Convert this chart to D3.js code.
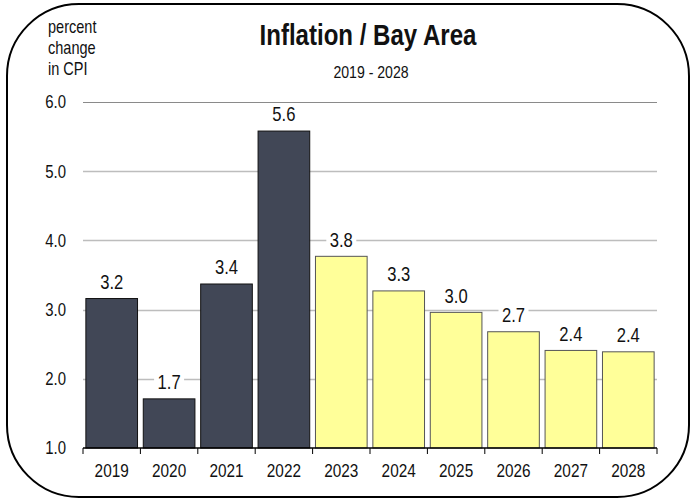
<!DOCTYPE html>
<html>
<head>
<meta charset="utf-8">
<script src="https://cdn.jsdelivr.net/npm/d3@7"></script>
<style>
  body { margin: 0; background: #fff; }
  svg text { font-family: "Liberation Sans", Arial, sans-serif; fill: #111; }
</style>
</head>
<body>
<svg class="chart"></svg>
<script>
var years = ["2019", "2020", "2021", "2022", "2023", "2024", "2025", "2026", "2027", "2028"];
var cpi = [3.16, 1.71, 3.37, 5.58, 3.77, 3.27, 2.96, 2.68, 2.41, 2.39];
var actual = ["2019", "2020", "2021", "2022"];
var yTicks = [1, 2, 3, 4, 5, 6];

var W = 690, H = 499;
var margin = {top: 102, left: 83, right: 33, bottom: 51};
var narrow = 0.83; // fake Arial Narrow

var chart = d3.select(".chart")
	.attr("width", W)
	.attr("height", H);

function place(px, py) {
	return "translate(" + px + "," + py + ") scale(" + narrow + ",1)";
}

// rounded frame
chart.append("rect")
	.attr("x", 7).attr("y", 4)
	.attr("width", 682).attr("height", 493)
	.attr("rx", 72).attr("ry", 72)
	.style("fill", "#fff")
	.style("stroke", "#000")
	.style("stroke-width", 2);

var x = d3.scaleBand()
	.domain(years)
	.range([margin.left, W - margin.right])
	.paddingInner(0.1)
	.paddingOuter(0.05);

var y = d3.scaleLinear()
	.domain([1, 6])
	.range([H - margin.bottom, margin.top]);

// gridlines
chart.append("g").selectAll("line")
	.data(yTicks.filter(function(d) { return d > 1; }))
	.enter().append("line")
	.attr("x1", margin.left)
	.attr("x2", W - margin.right)
	.attr("y1", function(d) { return Math.round(y(d)) + 0.5; })
	.attr("y2", function(d) { return Math.round(y(d)) + 0.5; })
	.style("stroke", function(d) { return d == 6 ? "#8a8a8a" : "#bdbdbd"; })
	.style("stroke-width", function(d) { return d == 6 ? 1 : 1.6; });

// y tick labels
chart.append("g").selectAll("text")
	.data(yTicks)
	.enter().append("text")
	.attr("transform", function(d) { return place(66, y(d)); })
	.attr("dy", ".35em")
	.style("text-anchor", "end")
	.style("font-size", "18px")
	.text(function(d) { return d3.format(".1f")(d); });

// bars
chart.append("g").selectAll("rect")
	.data(years)
	.enter().append("rect")
	.attr("x", function(d) { return x(d); })
	.attr("y", function(d, i) { return y(cpi[i]); })
	.attr("width", x.bandwidth())
	.attr("height", function(d, i) { return y(1) - y(cpi[i]); })
	.style("fill", function(d) { return actual.includes(d) ? "#414756" : "#ffff99"; })
	.style("stroke", function(d) { return actual.includes(d) ? "#111" : "#555"; })
	.style("stroke-width", 1);

// x axis
var xAxis = chart.append("g")
	.attr("transform", "translate(0," + y(1) + ")");
xAxis.append("line")
	.attr("x1", margin.left).attr("x2", W - margin.right)
	.style("stroke", "#000").style("stroke-width", 1.5);
xAxis.selectAll(".tick")
	.data(d3.range(years.length + 1))
	.enter().append("line")
	.attr("x1", function(i) { return margin.left + i * x.step(); })
	.attr("x2", function(i) { return margin.left + i * x.step(); })
	.attr("y1", 0).attr("y2", 6)
	.style("stroke", "#000");
xAxis.selectAll("text")
	.data(years)
	.enter().append("text")
	.attr("transform", function(d) { return place(x(d) + x.bandwidth() / 2, 29); })
	.style("text-anchor", "middle")
	.style("font-size", "18.5px")
	.text(function(d) { return d; });

// value labels with white boxes
var lab = chart.append("g").selectAll("g")
	.data(years)
	.enter().append("g")
	.attr("transform", function(d, i) {
		return "translate(" + (x(d) + x.bandwidth() / 2) + "," + (y(cpi[i]) - 17) + ")";
	});
lab.append("rect")
	.attr("x", -15).attr("y", -10)
	.attr("width", 30).attr("height", 19)
	.style("fill", "#fff");
lab.append("text")
	.attr("transform", "scale(" + narrow + ",1)")
	.attr("dy", ".36em")
	.style("text-anchor", "middle")
	.style("font-size", "20px")
	.text(function(d, i) { return cpi[i].toFixed(1); });

// titles
chart.append("text")
	.attr("transform", place(368, 45))
	.style("text-anchor", "middle")
	.style("font-size", "29px")
	.style("font-weight", "bold")
	.text("Inflation / Bay Area");
chart.append("text")
	.attr("transform", place(371, 78))
	.style("text-anchor", "middle")
	.style("font-size", "17px")
	.text("2019 - 2028");

var unit = chart.append("text")
	.attr("transform", place(48, 33))
	.style("font-size", "17.5px");
["percent", "change", "in CPI"].forEach(function(s, i) {
	unit.append("tspan").attr("x", 0).attr("dy", i ? 21 : 0).text(s);
});
</script>
</body>
</html>
